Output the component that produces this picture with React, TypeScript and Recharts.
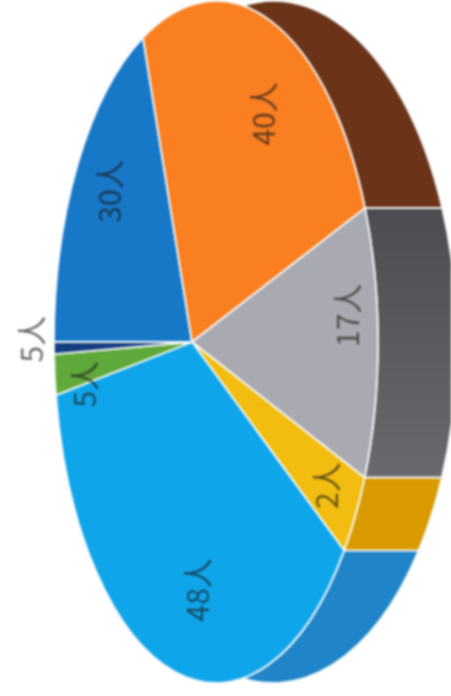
import * as React from "react";
import { Pie, PieChart } from "recharts";

// Tilted 3D pie, photographed on its side: a wall pie underneath, the top face over it.

const HEADCOUNTS = ["30人", "40人", "17人", "2人", "48人", "5人", "5人"];
// Drawn slice sizes in percent (they do not follow the counts).
const SLICE_SHARES = [19.8, 24.6, 11.3, 3.5, 37.9, 2.25, 0.67];
const TOP_COLORS = ["#1878c8", "#fa7f20", "#a9a9b1", "#f2bd10", "#0fa5ea", "#5fa83a", "#143e80"];
const WALL_COLORS = ["#155f9e", "#6b3318", "url(#grayWall)", "#d99a00", "#1f85c8", "#3f7a28", "#0e2c5c"];

// Label placement: shift from the slice's mid angle (deg) and reach along the ray.
const LABEL_SHIFT = [-4.85, -7.3, 4.85, -0.4, 13.2, 3.95, -1.7];
const LABEL_REACH = [0.682, 0.796, 0.954, 0.922, 0.727, 0.684, 1.0];

const WIDTH = 451;
const HEIGHT = 696;
const CX = 216;
const CY = 342;
const RX = 162;
const RY = 341;
const HUB_U = -0.148; // the hub sits left of the ellipse centre (perspective)
// the far rim is a wider ellipse, shifted right
const OUTER_CX = 273;
const OUTER_RX = 184;

const topRows = HEADCOUNTS.map((name, i) => ({ name, share: SLICE_SHARES[i], fill: TOP_COLORS[i] }));
const wallRows = HEADCOUNTS.map((name, i) => ({ name, share: SLICE_SHARES[i], fill: WALL_COLORS[i] }));

function rimPoint(angle: number) {
  const rad = (angle * Math.PI) / 180;
  const du = Math.cos(rad);
  const dv = -Math.sin(rad);
  const b = HUB_U * du;
  const t = -b + Math.sqrt(b * b - (HUB_U * HUB_U - 1));
  const u = HUB_U + t * du;
  const v = t * dv;
  return { x: CX + RX * u, y: CY + RY * v, outerX: OUTER_CX + OUTER_RX * u, phi: Math.atan2(v, u) };
}

function largeFlag(a: { phi: number }, b: { phi: number }) {
  const delta = (b.phi - a.phi + Math.PI * 4) % (Math.PI * 2);
  return delta > Math.PI ? 1 : 0;
}

function TopSlice(props: any) {
  const a = rimPoint(props.startAngle);
  const b = rimPoint(props.endAngle);
  const hubX = CX + HUB_U * RX;
  const d = `M${hubX},${CY} L${a.x},${a.y} A${RX},${RY} 0 ${largeFlag(a, b)} 1 ${b.x},${b.y} Z`;
  return <path d={d} fill={props.fill} stroke="#f4f8fa" strokeWidth={1.8} strokeLinejoin="round" />;
}

function WallSlice(props: any) {
  const a = rimPoint(props.startAngle);
  const b = rimPoint(props.endAngle);
  const large = largeFlag(a, b);
  const d =
    `M${a.x},${a.y} A${RX},${RY} 0 ${large} 1 ${b.x},${b.y} ` +
    `L${b.outerX},${b.y} A${OUTER_RX},${RY} 0 ${large} 0 ${a.outerX},${a.y} Z`;
  return <path d={d} fill={props.fill} stroke="#f4f8fa" strokeWidth={1.8} />;
}

function sliceLabel(props: any) {
  const i = props.index;
  const rad = ((props.midAngle + LABEL_SHIFT[i]) * Math.PI) / 180;
  const x = CX + HUB_U * RX + RX * LABEL_REACH[i] * Math.cos(rad);
  const y = CY - RY * LABEL_REACH[i] * Math.sin(rad);
  return (
    <text
      key={i}
      x={x}
      y={y}
      transform={`rotate(-90 ${x} ${y})`}
      textAnchor="middle"
      dominantBaseline="central"
      fontFamily="'Noto Sans CJK SC', 'Noto Sans', sans-serif"
      fontSize={30}
      fill="#1c1c1c"
      fillOpacity={0.66}
    >
      {HEADCOUNTS[i]}
    </text>
  );
}

export default function App() {
  return (
    <div
      style={{
        position: "absolute",
        left: 0,
        top: 0,
        width: WIDTH,
        height: HEIGHT,
        overflow: "hidden",
        background: "#ffffff",
      }}
    >
      <div style={{ filter: "blur(0.9px)" }}>
        <PieChart width={WIDTH} height={HEIGHT} margin={{ top: 0, right: 0, bottom: 0, left: 0 }}>
          <defs>
            <linearGradient id="grayWall" x1="0" y1="0" x2="0" y2="1">
              <stop offset="0" stopColor="#4d4c50" />
              <stop offset="1" stopColor="#6a6a6e" />
            </linearGradient>
          </defs>
          <Pie
            data={wallRows}
            dataKey="share"
            nameKey="name"
            cx={CX}
            cy={CY}
            outerRadius={RX}
            startAngle={180}
            endAngle={-180}
            shape={WallSlice}
            isAnimationActive={false}
          />
          <Pie
            data={topRows}
            dataKey="share"
            nameKey="name"
            cx={CX}
            cy={CY}
            outerRadius={RX}
            startAngle={180}
            endAngle={-180}
            shape={TopSlice}
            label={sliceLabel}
            labelLine={false}
            isAnimationActive={false}
          />
        </PieChart>
      </div>
    </div>
  );
}
